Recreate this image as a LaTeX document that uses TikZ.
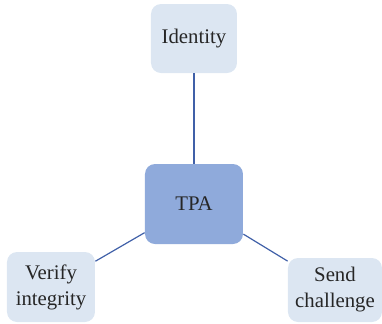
\documentclass[tikz,border=0pt]{standalone}
\usepackage{fontspec}
\setmainfont{Liberation Serif}
\usepackage{tikz}
\usetikzlibrary{positioning}
\definecolor{boxlight}{RGB}{220,230,242}
\definecolor{boxdark}{RGB}{143,170,219}
\definecolor{linkblue}{RGB}{64,96,168}

\begin{document}
\begin{tikzpicture}[x=0.5pt,y=-0.5pt, on grid,
  part/.style={rectangle, rounded corners=5pt, fill=boxlight, align=center, text=black!85, font=\fontsize{10.4}{13}\selectfont},
  hub/.style={part, fill=boxdark}]
\useasboundingbox (0,0) rectangle (382,323);
\node[hub,minimum width=49pt,minimum height=40pt] (tpa) at (194,204) {TPA};
\node[part,minimum width=43pt,minimum height=34.5pt,above=82.75pt of tpa] (ident) {Identity};
\node[part,minimum width=44pt,minimum height=35pt,below left=41.5pt and 71.5pt of tpa] (verify) {Verify\\integrity};
\node[part,minimum width=47pt,minimum height=32pt,below right=43pt and 70.5pt of tpa] (send) {Send\\challenge};

\path[draw=linkblue, line width=0.6pt] (tpa) edge (ident)
              (tpa) edge (verify)
              (tpa) edge (send)
;
\end{tikzpicture}
\end{document}
